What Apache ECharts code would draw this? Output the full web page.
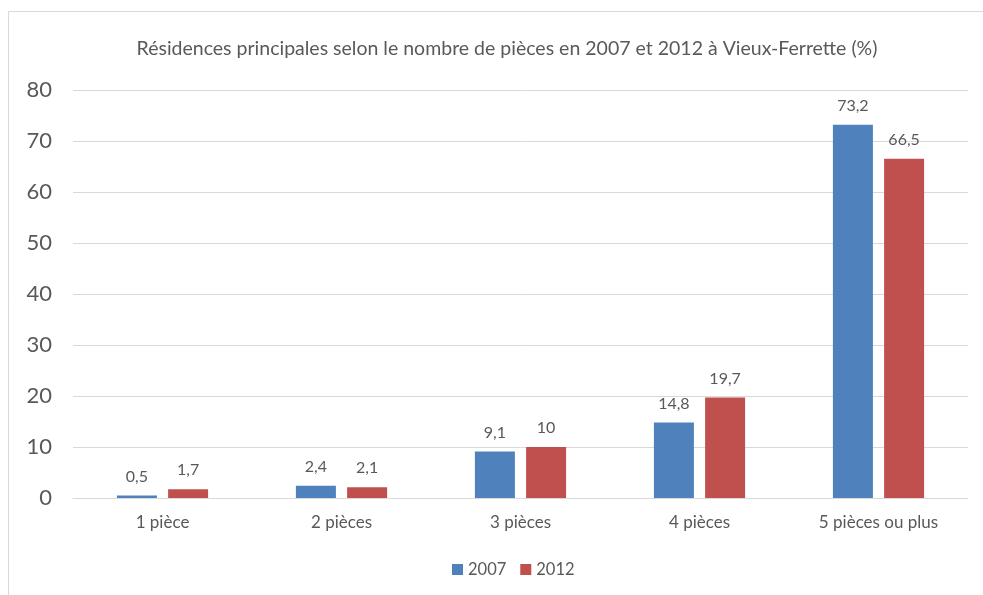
<!DOCTYPE html>
<html>
<head>
<meta charset="utf-8">
<script src="https://cdn.jsdelivr.net/npm/echarts@6/dist/echarts.min.js"></script>
<style>
  html, body { margin: 0; padding: 0; background: #fff; }
  #chart { width: 983px; height: 595px; }
</style>
</head>
<body>
<div id="chart"></div>
<script>
  // données
  var categories = ['1 pièce', '2 pièces', '3 pièces', '4 pièces', '5 pièces ou plus'];
  var values2007 = [0.5, 2.4, 9.1, 14.8, 73.2];
  var values2012 = [1.7, 2.1, 10, 19.7, 66.5];
  var yTicks = { min: 0, max: 80, interval: 10 };

  var fontFam = 'Lato, "Open Sans", sans-serif';
  var txtColor = '#595959';

  var chart = echarts.init(document.getElementById('chart'));

  function labelFmt(p) {
    return String(p.value).replace('.', ',');
  }

  var option = {
    animation: false,
    textStyle: { fontFamily: fontFam },
    title: {
      text: 'Résidences principales selon le nombre de pièces en 2007 et 2012 à Vieux-Ferrette (%)',
      left: 502,
      top: 34,
      textAlign: 'center',
      textStyle: { fontSize: 19.5, fontWeight: 'normal', color: txtColor, fontFamily: fontFam }
    },
    graphic: [{
      type: 'rect',
      shape: { x: 8.5, y: 11.5, width: 1000, height: 1000 },
      style: { fill: 'none', stroke: '#d9d9d9', lineWidth: 1 },
      silent: true
    }],
    legend: {
      bottom: 12,
      left: 447,
      itemWidth: 11,
      itemHeight: 11,
      itemGap: 14,
      icon: 'rect',
      textStyle: { fontSize: 16.5, color: txtColor, fontFamily: fontFam },
      data: ['2007', '2012']
    },
    grid: { left: 73, right: 15, top: 90, bottom: 97 },
    xAxis: {
      type: 'category',
      data: categories,
      axisLine: { lineStyle: { color: '#d9d9d9' } },
      axisTick: { show: false },
      axisLabel: { fontSize: 17, color: txtColor, margin: 16 }
    },
    yAxis: {
      type: 'value',
      min: yTicks.min,
      max: yTicks.max,
      interval: yTicks.interval,
      axisLine: { show: false },
      axisTick: { show: false },
      axisLabel: { fontSize: 22, color: txtColor, margin: 21 },
      splitLine: { lineStyle: { color: '#d9d9d9' } }
    },
    series: [{
      name: '2007',
      type: 'bar',
      data: values2007,
      barWidth: 40,
      barGap: '28%',
      itemStyle: { color: '#4f81bd' },
      label: { show: true, position: 'top', distance: 11, fontSize: 16, color: txtColor, formatter: labelFmt }
    }, {
      name: '2012',
      type: 'bar',
      data: values2012,
      barWidth: 40,
      itemStyle: { color: '#c0504d' },
      label: { show: true, position: 'top', distance: 11, fontSize: 16, color: txtColor, formatter: labelFmt }
    }]
  };

  chart.setOption(option);
</script>
</body>
</html>
